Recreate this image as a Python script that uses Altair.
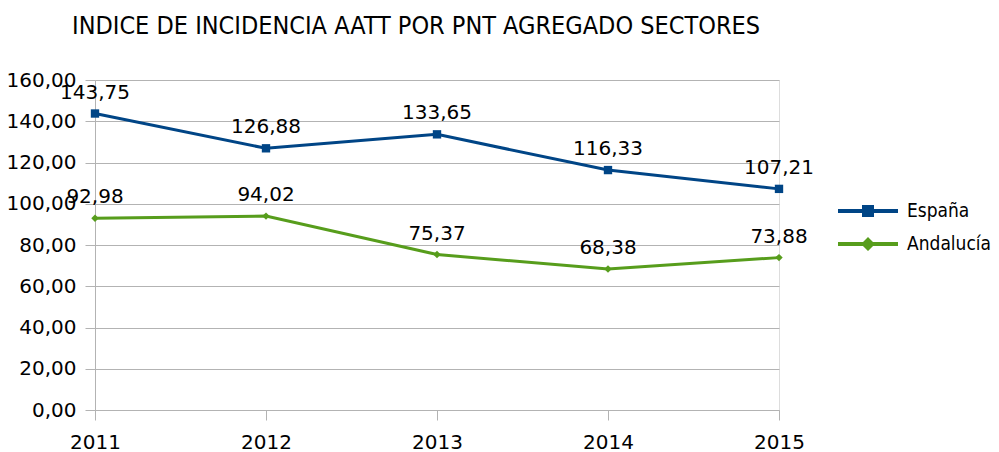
import altair as alt
import pandas as pd

years = [2011, 2012, 2013, 2014, 2015]
espana = [143.75, 126.88, 133.65, 116.33, 107.21]
andalucia = [92.98, 94.02, 75.37, 68.38, 73.88]
series = ["España", "Andalucía"]
colors = ["#004586", "#579d1c"]
y_ticks = [0, 20, 40, 60, 80, 100, 120, 140, 160]

rows = []
for y, v in zip(years, espana):
    rows.append({"year": y, "serie": series[0], "value": v})
for y, v in zip(years, andalucia):
    rows.append({"year": y, "serie": series[1], "value": v})
df = pd.DataFrame(rows)

FONT = "DejaVu Sans"
TFONT = "DejaVu Sans Condensed"

# legend glyphs (unit = 10px at symbolSize 400): a line segment with the marker in the middle
legend_shapes = [
    "M-3,-0.2H3V0.2H-3Z M-0.6,-0.6H0.6V0.6H-0.6Z",
    "M-3,-0.2H3V0.2H-3Z M-0.7,0L0,-0.7L0.7,0L0,0.7Z",
]

color_scale = alt.Scale(domain=series, range=colors)

legend = alt.Legend(
    title=None,
    orient="none",
    legendX=763,
    legendY=121,
    symbolSize=400,
    symbolStrokeWidth=0,
    symbolOpacity=1,
    labelFontSize=19,
    labelFont=TFONT,
    labelColor="#000000",
    labelOffset=29,
    labelLimit=200,
    rowPadding=13,
)

color_enc = alt.Color("serie:N", scale=color_scale, legend=legend, sort=series)

x_enc = alt.X("year:Q", scale=alt.Scale(domain=[2011, 2015], nice=False, zero=False),
              axis=alt.Axis(values=years, format="d", title=None, grid=False,
                            domainColor="#b3b3b3", tickColor="#b3b3b3", tickSize=10,
                            labelPadding=12, labelFontSize=20, labelFont=FONT,
                            labelColor="#000000", labelFlush=False))
y_enc = alt.Y("value:Q", scale=alt.Scale(domain=[0, 160], nice=False),
              axis=alt.Axis(values=y_ticks, title=None, grid=True, gridColor="#b3b3b3",
                            domainColor="#b3b3b3", tickColor="#b3b3b3", tickSize=10,
                            labelPadding=9, labelFontSize=20, labelFont=FONT,
                            labelColor="#000000",
                            labelExpr="replace(format(datum.value, '.2f'), '.', ',')"))

base = alt.Chart(df)

legend_layer = base.transform_filter("datum.value < 0").mark_point(
    filled=True, opacity=1
).encode(
    x=x_enc, y=y_enc,
    color=color_enc,
    shape=alt.Shape("serie:N", scale=alt.Scale(domain=series, range=legend_shapes),
                    legend=legend, sort=series),
)

lines = base.mark_line(strokeWidth=3).encode(
    x="year:Q", y="value:Q", color=color_enc,
)

pts_es = base.transform_filter(alt.datum.serie == series[0]).mark_point(
    filled=True, opacity=1, shape="square", size=70
).encode(x="year:Q", y="value:Q", color=color_enc)

pts_an = base.transform_filter(alt.datum.serie == series[1]).mark_point(
    filled=True, opacity=1, shape="diamond", size=55
).encode(x="year:Q", y="value:Q", color=color_enc)

labels = base.transform_calculate(
    lab="replace(format(datum.value, '.2f'), '.', ',')"
).mark_text(dy=-15, baseline="alphabetic", fontSize=20, font=FONT, color="#000000").encode(
    x="year:Q", y="value:Q", text="lab:N",
)

chart = alt.layer(legend_layer, lines, pts_es, pts_an, labels).properties(
    width=684,
    height=330,
    title=alt.TitleParams(
        "INDICE DE INCIDENCIA AATT POR PNT AGREGADO SECTORES",
        anchor="start", frame="group", font=TFONT, fontSize=25, fontWeight="normal",
        color="#000000", dx=-23, offset=31,
    ),
    autosize=alt.AutoSizeParams(type="none"),
    padding={"left": 87, "top": 72, "right": 212, "bottom": 50},
).configure_view(stroke="#b3b3b3", strokeWidth=1).configure(background="white")

chart.save("out.html", embed_options={"renderer": "svg", "actions": False})
